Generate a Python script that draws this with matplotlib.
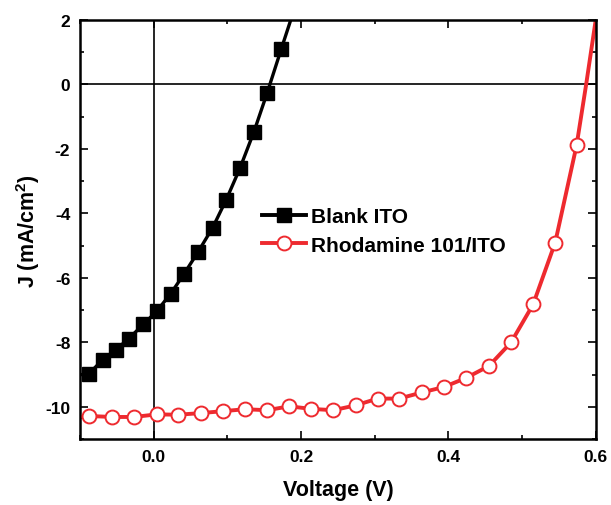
import numpy as np
import matplotlib.pyplot as plt

# Blank ITO (black squares)
blank_v = [-0.088, -0.069, -0.051, -0.034, -0.014, 0.004, 0.023, 0.041, 0.060,
           0.080, 0.0985, 0.117, 0.136, 0.154, 0.173]
blank_j = [-8.97, -8.53, -8.22, -7.88, -7.44, -7.03, -6.49, -5.88, -5.20,
           -4.44, -3.57, -2.60, -1.47, -0.26, 1.09]
# line runs a bit past the last marker to the top of the frame
blank_line_v = [-0.1] + blank_v + [0.186]
blank_line_j = [-9.0] + blank_j + [2.0]

# Rhodamine 101/ITO (red open circles)
rho_v = [-0.088, -0.056, -0.027, 0.004, 0.033, 0.064, 0.094, 0.124, 0.154,
         0.184, 0.214, 0.244, 0.274, 0.304, 0.333, 0.364, 0.394, 0.424,
         0.455, 0.485, 0.515, 0.545, 0.574]
rho_j = [-10.28, -10.31, -10.31, -10.23, -10.24, -10.19, -10.13, -10.07, -10.10,
         -9.98, -10.06, -10.10, -9.95, -9.74, -9.74, -9.55, -9.38, -9.10,
         -8.73, -8.00, -6.82, -4.90, -1.89]
rho_line_v = [-0.1] + rho_v + [0.587, 0.6]
rho_line_j = [-10.32] + rho_j + [0.0, 2.0]

plt.rcParams["font.family"] = ["Liberation Sans", "DejaVu Sans"]
plt.rcParams["font.weight"] = "bold"
plt.rcParams["axes.unicode_minus"] = False
plt.rcParams["mathtext.fontset"] = "custom"
plt.rcParams["mathtext.rm"] = "Liberation Sans:bold"
plt.rcParams["mathtext.bf"] = "Liberation Sans:bold"

fig = plt.figure(figsize=(6.11, 5.06), dpi=100)
ax = fig.add_axes([0.131, 0.130, 0.844, 0.8285])

ax.axhline(0, color="black", lw=1.2, zorder=1)
ax.axvline(0, color="black", lw=1.2, zorder=1)

red = "#ee2a2f"
ax.plot(blank_line_v, blank_line_j, color="black", lw=2.4, zorder=2)
ax.plot(blank_v, blank_j, ls="none", marker="s", ms=9.5, color="black", zorder=3)
ax.plot(rho_line_v, rho_line_j, color=red, lw=2.8, zorder=2)
ax.plot(rho_v, rho_j, ls="none", marker="o", ms=10, mfc="white", mec=red,
        mew=1.4, zorder=3)

# legend proxies
ax.plot([], [], color="black", lw=2.8, marker="s", ms=9.5, label="Blank ITO")
ax.plot([], [], color=red, lw=2.8, marker="o", ms=10, mfc="white", mec=red,
        mew=1.4, label="Rhodamine 101/ITO")
handles, labels = ax.get_legend_handles_labels()
ax.legend(handles, labels, loc="center left", bbox_to_anchor=(0.345, 0.497),
          frameon=False, fontsize=15, handlelength=2.1, handletextpad=0.25,
          labelspacing=0.45, borderpad=0.2, borderaxespad=0)

ax.set_xlim(-0.1, 0.6)
ax.set_ylim(-11, 2)
ax.set_xticks([0.0, 0.2, 0.4, 0.6])
ax.set_xticks([-0.1, 0.1, 0.3, 0.5], minor=True)
ax.set_yticks([-10, -8, -6, -4, -2, 0, 2])
ax.set_yticks(np.arange(-11, 2, 2), minor=True)
ax.set_xticklabels(["0.0", "0.2", "0.4", "0.6"])

ax.tick_params(which="both", direction="in", top=True, right=True,
               labelsize=12.5, width=1.2, pad=7)
ax.tick_params(which="major", length=5.5)
ax.tick_params(which="minor", length=3)
for s in ax.spines.values():
    s.set_linewidth(1.8)

ax.set_xlabel("Voltage (V)", fontsize=15.5, fontweight="bold", labelpad=11)
ax.set_ylabel("J (mA/cm$^2$)", fontsize=15.5, fontweight="bold", labelpad=2.5)

fig.savefig("out.png", dpi=100)
